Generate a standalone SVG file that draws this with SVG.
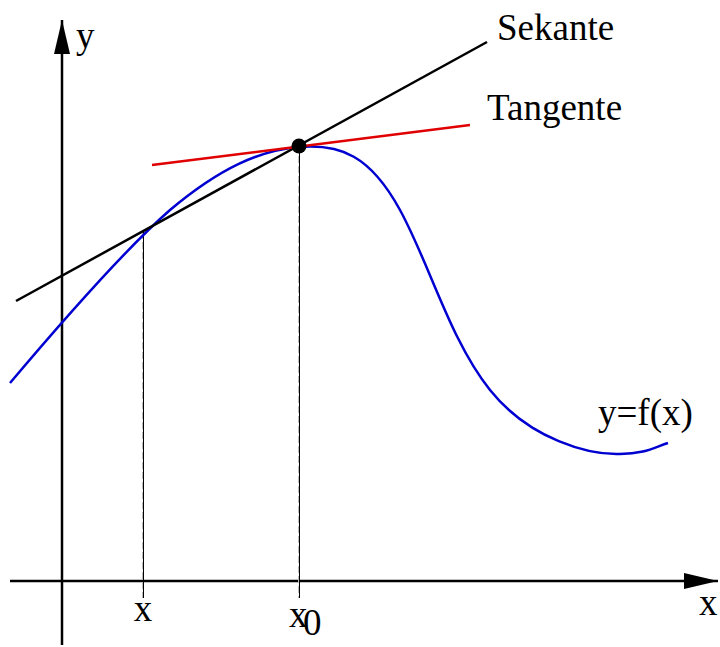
<svg xmlns="http://www.w3.org/2000/svg" width="720" height="647" viewBox="0 0 720 647">
<style>
text{font-family:"Liberation Serif","Times New Roman",serif;font-size:37px;fill:#000}
.ax{stroke:#000;stroke-width:2.5;fill:none}
.guide{stroke:#000;stroke-width:1;fill:none}
.guide2{stroke:#bbb;stroke-width:1;stroke-dasharray:7 3;fill:none}
</style>
<defs>
<marker id="ah" viewBox="0 0 34 16" refX="34" refY="8" markerWidth="34" markerHeight="16" markerUnits="userSpaceOnUse" orient="auto">
<path d="M0,0 L34,8 L0,16 Z" fill="#000"/>
</marker>
</defs>
<rect width="720" height="647" fill="#fff"/>
<g id="connectors">
<line class="ax" x1="62" y1="645" x2="62" y2="20" marker-end="url(#ah)"/>
<line class="ax" x1="10" y1="581" x2="718" y2="581" marker-end="url(#ah)"/>
<line class="guide2" x1="142.5" y1="232" x2="142.5" y2="598"/>
<line class="guide" x1="143.5" y1="232" x2="143.5" y2="598"/>
<line class="guide2" x1="298.5" y1="146" x2="298.5" y2="598"/>
<line class="guide" x1="299.5" y1="146" x2="299.5" y2="598"/>
</g>
<g id="curve">
<path d="M10,383 C70,312 130,245 170,210 C220,168 260,150 300,147 C340,144 370,155 400,210 C430,265 450,340 490,390 C530,440 590,455 620,454 C645,454 655,447 668,443" fill="none" stroke="#0000d0" stroke-width="2.5"/>
</g>
<g id="sekante">
<line x1="16" y1="301" x2="487" y2="42" stroke="#000" stroke-width="2.5"/>
</g>
<g id="tangente">
<line x1="152" y1="165" x2="470" y2="125" stroke="#e00000" stroke-width="2.5"/>
</g>
<g id="point">
<circle cx="299" cy="146" r="7.5" fill="#000"/>
</g>
<g id="labels">
<text x="76" y="48">y</text>
<text x="497" y="40">Sekante</text>
<text x="487" y="120">Tangente</text>
<text x="598" y="425">y=f(x)</text>
<text x="143" y="621" text-anchor="middle">x</text>
<text x="289" y="627">x</text>
<text x="303" y="635" font-size="28">0</text>
<text x="699" y="615">x</text>
</g>
</svg>
